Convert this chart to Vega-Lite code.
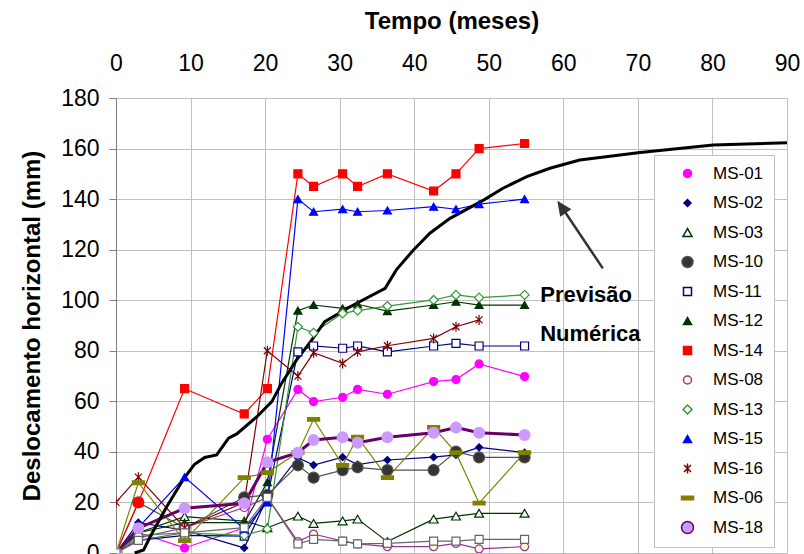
{
"$schema": "https://vega.github.io/schema/vega-lite/v6.json",
"width": 671, "height": 455,
"autosize": {"type": "none"},
"padding": {"left": 116, "top": 98, "right": 17, "bottom": 1},
"background": "white",
"config": {"view": {"stroke": null}, "font": "Liberation Sans",
 "legend": {"orient": "none", "legendX": 538, "legendY": 57, "title": null,
  "symbolSize": 784, "symbolStrokeWidth": 1.5, "symbolOffset": 15, "labelFontSize": 17, "labelFont": "Liberation Sans", "labelColor": "black", "labelOffset": 17,
  "rowPadding": 11.5, "padding": 10, "strokeColor": "#c0c0c0", "fillColor": "white", "symbolOpacity": 1}},
"datasets": {
"obs": [
{"s":"MS-01","t":0,"v":0},{"s":"MS-01","t":3,"v":8},{"s":"MS-01","t":9.2,"v":2},{"s":"MS-01","t":17.2,"v":10},{"s":"MS-01","t":20.3,"v":45},{"s":"MS-01","t":24.4,"v":64.7},{"s":"MS-01","t":26.5,"v":59.9},{"s":"MS-01","t":30.4,"v":61.6},{"s":"MS-01","t":32.4,"v":64.7},{"s":"MS-01","t":36.4,"v":62.8},{"s":"MS-01","t":42.6,"v":67.8},{"s":"MS-01","t":45.6,"v":68.6},{"s":"MS-01","t":48.7,"v":74.8},{"s":"MS-01","t":54.8,"v":69.8},
{"s":"MS-02","t":0,"v":0},{"s":"MS-02","t":3,"v":12},{"s":"MS-02","t":9.2,"v":9},{"s":"MS-02","t":17.2,"v":2},{"s":"MS-02","t":20.3,"v":22},{"s":"MS-02","t":24.4,"v":37.7},{"s":"MS-02","t":26.5,"v":34.8},{"s":"MS-02","t":30.4,"v":37.9},{"s":"MS-02","t":32.4,"v":35},{"s":"MS-02","t":36.4,"v":36.8},{"s":"MS-02","t":42.6,"v":37.9},{"s":"MS-02","t":45.6,"v":38.8},{"s":"MS-02","t":48.7,"v":41.8},{"s":"MS-02","t":54.8,"v":39.7},
{"s":"MS-03","t":0,"v":0},{"s":"MS-03","t":3,"v":8},{"s":"MS-03","t":9.2,"v":14.4},{"s":"MS-03","t":17.2,"v":12.6},{"s":"MS-03","t":20.3,"v":10},{"s":"MS-03","t":24.4,"v":14.6},{"s":"MS-03","t":26.5,"v":11.7},{"s":"MS-03","t":30.4,"v":12.7},{"s":"MS-03","t":32.4,"v":13.4},{"s":"MS-03","t":36.4,"v":4.5},{"s":"MS-03","t":42.6,"v":13.4},{"s":"MS-03","t":45.6,"v":14.6},{"s":"MS-03","t":48.7,"v":15.7},{"s":"MS-03","t":54.8,"v":15.7},
{"s":"MS-10","t":0,"v":0},{"s":"MS-10","t":3,"v":20},{"s":"MS-10","t":9.2,"v":10},{"s":"MS-10","t":17.2,"v":22},{"s":"MS-10","t":20.3,"v":23},{"s":"MS-10","t":24.4,"v":34.7},{"s":"MS-10","t":26.5,"v":29.8},{"s":"MS-10","t":30.4,"v":32.8},{"s":"MS-10","t":32.4,"v":33.9},{"s":"MS-10","t":36.4,"v":32.8},{"s":"MS-10","t":42.6,"v":32.8},{"s":"MS-10","t":45.6,"v":40.1},{"s":"MS-10","t":48.7,"v":37.8},{"s":"MS-10","t":54.8,"v":37.8},
{"s":"MS-11","t":0,"v":0},{"s":"MS-11","t":3,"v":5},{"s":"MS-11","t":9.2,"v":7},{"s":"MS-11","t":17.2,"v":6.7},{"s":"MS-11","t":20.3,"v":22},{"s":"MS-11","t":24.4,"v":79.6},{"s":"MS-11","t":26.5,"v":81.9},{"s":"MS-11","t":30.4,"v":81},{"s":"MS-11","t":32.4,"v":81.9},{"s":"MS-11","t":36.4,"v":79.6},{"s":"MS-11","t":42.6,"v":81.9},{"s":"MS-11","t":45.6,"v":82.9},{"s":"MS-11","t":48.7,"v":81.9},{"s":"MS-11","t":54.8,"v":81.9},
{"s":"MS-12","t":0,"v":0},{"s":"MS-12","t":3,"v":8},{"s":"MS-12","t":9.2,"v":12},{"s":"MS-12","t":17.2,"v":12},{"s":"MS-12","t":20.3,"v":28},{"s":"MS-12","t":24.4,"v":95.9},{"s":"MS-12","t":26.5,"v":98.1},{"s":"MS-12","t":30.4,"v":96.8},{"s":"MS-12","t":32.4,"v":98.4},{"s":"MS-12","t":36.4,"v":95.7},{"s":"MS-12","t":42.6,"v":98.1},{"s":"MS-12","t":45.6,"v":99.4},{"s":"MS-12","t":48.7,"v":98.1},{"s":"MS-12","t":54.8,"v":98.1},
{"s":"MS-14","t":0,"v":0},{"s":"MS-14","t":3,"v":20},{"s":"MS-14","t":9.2,"v":65},{"s":"MS-14","t":17.2,"v":55},{"s":"MS-14","t":20.3,"v":65},{"s":"MS-14","t":24.4,"v":150},{"s":"MS-14","t":26.5,"v":145},{"s":"MS-14","t":30.4,"v":150},{"s":"MS-14","t":32.4,"v":145},{"s":"MS-14","t":36.4,"v":150},{"s":"MS-14","t":42.6,"v":143.2},{"s":"MS-14","t":45.6,"v":150},{"s":"MS-14","t":48.7,"v":160},{"s":"MS-14","t":54.8,"v":162},
{"s":"MS-08","t":0,"v":0},{"s":"MS-08","t":3,"v":6},{"s":"MS-08","t":9.2,"v":10},{"s":"MS-08","t":17.2,"v":18},{"s":"MS-08","t":20.3,"v":22},{"s":"MS-08","t":24.4,"v":4.5},{"s":"MS-08","t":26.5,"v":7.5},{"s":"MS-08","t":30.4,"v":4.7},{"s":"MS-08","t":32.4,"v":3.6},{"s":"MS-08","t":36.4,"v":2.5},{"s":"MS-08","t":42.6,"v":2.5},{"s":"MS-08","t":45.6,"v":3.8},{"s":"MS-08","t":48.7,"v":1.6},{"s":"MS-08","t":54.8,"v":2.5},
{"s":"MS-13","t":0,"v":0},{"s":"MS-13","t":3,"v":7},{"s":"MS-13","t":9.2,"v":8},{"s":"MS-13","t":17.2,"v":7},{"s":"MS-13","t":20.3,"v":9.5},{"s":"MS-13","t":24.4,"v":89.5},{"s":"MS-13","t":26.5,"v":87.1},{"s":"MS-13","t":30.4,"v":94.8},{"s":"MS-13","t":32.4,"v":95.9},{"s":"MS-13","t":36.4,"v":97.7},{"s":"MS-13","t":42.6,"v":100.1},{"s":"MS-13","t":45.6,"v":102.1},{"s":"MS-13","t":48.7,"v":101},{"s":"MS-13","t":54.8,"v":102.1},
{"s":"MS-15","t":0,"v":0},{"s":"MS-15","t":3,"v":10},{"s":"MS-15","t":9.2,"v":30},{"s":"MS-15","t":17.2,"v":9.5},{"s":"MS-15","t":20.3,"v":20},{"s":"MS-15","t":24.4,"v":140},{"s":"MS-15","t":26.5,"v":135},{"s":"MS-15","t":30.4,"v":136},{"s":"MS-15","t":32.4,"v":135},{"s":"MS-15","t":36.4,"v":135.5},{"s":"MS-15","t":42.6,"v":137},{"s":"MS-15","t":45.6,"v":136},{"s":"MS-15","t":48.7,"v":138},{"s":"MS-15","t":54.8,"v":140},
{"s":"MS-16","t":0,"v":20},{"s":"MS-16","t":3,"v":30},{"s":"MS-16","t":9.2,"v":10},{"s":"MS-16","t":17.2,"v":20},{"s":"MS-16","t":20.3,"v":80},{"s":"MS-16","t":24.4,"v":70},{"s":"MS-16","t":26.5,"v":79.2},{"s":"MS-16","t":30.4,"v":75},{"s":"MS-16","t":32.4,"v":79.6},{"s":"MS-16","t":36.4,"v":82},{"s":"MS-16","t":42.6,"v":84.9},{"s":"MS-16","t":45.6,"v":89.5},{"s":"MS-16","t":48.7,"v":92.2},
{"s":"MS-06","t":0,"v":0},{"s":"MS-06","t":3,"v":27.8},{"s":"MS-06","t":9.2,"v":4.9},{"s":"MS-06","t":17.2,"v":29.8},{"s":"MS-06","t":20.3,"v":31.8},{"s":"MS-06","t":24.4,"v":39.7},{"s":"MS-06","t":26.5,"v":52.9},{"s":"MS-06","t":30.4,"v":34.7},{"s":"MS-06","t":32.4,"v":45.8},{"s":"MS-06","t":36.4,"v":29.8},{"s":"MS-06","t":42.6,"v":49.7},{"s":"MS-06","t":45.6,"v":39.7},{"s":"MS-06","t":48.7,"v":19.7},{"s":"MS-06","t":54.8,"v":39.7},
{"s":"MS-18","t":0,"v":0},{"s":"MS-18","t":3,"v":9.8},{"s":"MS-18","t":9.2,"v":17.7},{"s":"MS-18","t":17.2,"v":19.7},{"s":"MS-18","t":20.3,"v":35.9},{"s":"MS-18","t":24.4,"v":39.7},{"s":"MS-18","t":26.5,"v":44.7},{"s":"MS-18","t":30.4,"v":45.8},{"s":"MS-18","t":32.4,"v":43.6},{"s":"MS-18","t":36.4,"v":45.8},{"s":"MS-18","t":42.6,"v":47.6},{"s":"MS-18","t":45.6,"v":49.6},{"s":"MS-18","t":48.7,"v":47.6},{"s":"MS-18","t":54.8,"v":46.7},
{"s":"outro","t":0,"v":0},{"s":"outro","t":3,"v":5},{"s":"outro","t":9.2,"v":8},{"s":"outro","t":17.2,"v":10},{"s":"outro","t":20.3,"v":22},{"s":"outro","t":24.4,"v":3.6},{"s":"outro","t":26.5,"v":5.4},{"s":"outro","t":30.4,"v":4.7},{"s":"outro","t":32.4,"v":3.6},{"s":"outro","t":36.4,"v":3.8},{"s":"outro","t":42.6,"v":4.7},{"s":"outro","t":45.6,"v":4.7},{"s":"outro","t":48.7,"v":5.4},{"s":"outro","t":54.8,"v":5.4}
],
"num": [
{"t":2.5,"v":0},{"t":3.7,"v":1.2},{"t":4.6,"v":6.5},{"t":6.8,"v":18.3},{"t":9.0,"v":29},{"t":10.5,"v":35},{"t":11.9,"v":37.8},{"t":13.5,"v":38.8},{"t":15.1,"v":45.4},{"t":16.2,"v":47.1},{"t":18.9,"v":53.9},{"t":20.9,"v":59.9},{"t":22.2,"v":67.1},{"t":24.2,"v":76.3},{"t":26.2,"v":84},{"t":28.0,"v":91.5},{"t":31.4,"v":97.4},{"t":36.1,"v":104.7},{"t":37.6,"v":112},{"t":39.9,"v":119.9},{"t":42.1,"v":126.5},{"t":44.8,"v":132.4},{"t":49.3,"v":139.6},{"t":51.9,"v":144.3},{"t":55.1,"v":148.9},{"t":58.2,"v":152.2},{"t":62.2,"v":155.5},{"t":70.3,"v":158.4},{"t":80.1,"v":161.4},{"t":90,"v":162.3}
],
"arrow": [{"t":65.3,"v":112.6,"t2":59.8,"v2":136.8,"tt":59.2,"vt":139.4}],
"notes": [{"t":56.9,"v":99.2,"label":"Previsão"},{"t":56.9,"v":83.9,"label":"Numérica"}]
},
"layer": [
{
"data": {"name": "obs"},
"mark": {"type": "line", "clip": true},
"encoding": {
"x": {"field": "t", "type": "quantitative", "title": "Tempo (meses)", "scale": {"domain": [0, 90], "nice": false},
 "axis": {"orient": "top", "values": [0,10,20,30,40,50,60,70,80,90], "grid": true, "gridColor": "#c0c0c0", "domain": false, "ticks": false, "labelPadding": 23, "labelFontSize": 23, "labelColor": "black", "labelFlush": false, "titleFontSize": 24, "titleFontWeight": "bold", "titleColor": "black", "titlePadding": 19}},
"y": {"field": "v", "type": "quantitative", "title": "Deslocamento horizontal (mm)", "scale": {"domain": [0, 180], "nice": false},
 "axis": {"values": [0,20,40,60,80,100,120,140,160,180], "grid": true, "gridColor": "#c0c0c0", "domainColor": "#808080", "tickColor": "#808080", "tickSize": 7, "labelPadding": 10, "labelFontSize": 23, "labelColor": "black", "labelFlush": false, "titleFontSize": 24, "titleFontWeight": "bold", "titleColor": "black", "titlePadding": 16}},
"stroke": {"field": "s", "type": "nominal",
 "scale": {"domain": ["MS-01","MS-02","MS-03","MS-10","MS-11","MS-12","MS-14","MS-08","MS-13","MS-15","MS-16","MS-06","MS-18","outro"],
  "range": ["#FF00FF","#000080","#003300","#505050","#000080","#003300","#FF0000","#993399","#339933","#0000FF","#800000","#808000","#660066","#666666"]},
 "legend": {"values": ["MS-01","MS-02","MS-03","MS-10","MS-11","MS-12","MS-14","MS-08","MS-13","MS-15","MS-16","MS-06","MS-18"]}},
"strokeWidth": {"condition": {"test": "datum.s === 'MS-18'", "value": 3}, "value": 1.2},
"order": {"field": "t", "type": "quantitative"}
}
},
{
"data": {"name": "num"},
"mark": {"type": "line", "color": "black", "strokeWidth": 3},
"encoding": {
"x": {"field": "t", "type": "quantitative", "title": "Tempo (meses)"},
"y": {"field": "v", "type": "quantitative", "title": "Deslocamento horizontal (mm)"}
}
},
{
"data": {"name": "obs"},
"mark": {"type": "point", "filled": true, "opacity": 1, "clip": true},
"encoding": {
"x": {"field": "t", "type": "quantitative", "title": "Tempo (meses)"},
"y": {"field": "v", "type": "quantitative", "title": "Deslocamento horizontal (mm)"},
"stroke": {"field": "s", "type": "nominal",
 "scale": {"domain": ["MS-01","MS-02","MS-03","MS-10","MS-11","MS-12","MS-14","MS-08","MS-13","MS-15","MS-16","MS-06","MS-18","outro"],
  "range": ["#FF00FF","#000080","#003300","#505050","#000080","#003300","#FF0000","#993399","#339933","#0000FF","#800000","#808000","#660066","#666666"]},
 "legend": {"values": ["MS-01","MS-02","MS-03","MS-10","MS-11","MS-12","MS-14","MS-08","MS-13","MS-15","MS-16","MS-06","MS-18"]}},
"fill": {"field": "s", "type": "nominal",
 "scale": {"domain": ["MS-01","MS-02","MS-03","MS-10","MS-11","MS-12","MS-14","MS-08","MS-13","MS-15","MS-16","MS-06","MS-18","outro"],
  "range": ["#FF00FF","#000080","#FFFFFF","#333333","#FFFFFF","#003300","#FF0000","#FFFFCC","#FFFFFF","#0000FF","#800000","#808000","#CC99FF","#FFFFFF"]},
 "legend": {"values": ["MS-01","MS-02","MS-03","MS-10","MS-11","MS-12","MS-14","MS-08","MS-13","MS-15","MS-16","MS-06","MS-18"]}},
"shape": {"field": "s", "type": "nominal",
 "scale": {"domain": ["MS-01","MS-02","MS-03","MS-10","MS-11","MS-12","MS-14","MS-08","MS-13","MS-15","MS-16","MS-06","MS-18","outro"],
  "range": ["circle","diamond","triangle-up","circle","square","triangle-up","square","circle","diamond","triangle-up","M-0.7,-0.7L0.7,0.7M-0.7,0.7L0.7,-0.7M0,-1V1","M-1,-0.3H1V0.3H-1Z","circle","square"]},
 "legend": {"values": ["MS-01","MS-02","MS-03","MS-10","MS-11","MS-12","MS-14","MS-08","MS-13","MS-15","MS-16","MS-06","MS-18"]}},
"size": {"field": "s", "type": "nominal", "legend": null,
 "scale": {"type": "ordinal", "domain": ["MS-01","MS-02","MS-03","MS-10","MS-11","MS-12","MS-14","MS-08","MS-13","MS-15","MS-16","MS-06","MS-18","outro"],
  "range": [64,49,81,121,64,64,64,64,81,64,100,144,144,64]}},
"strokeWidth": {"condition": {"test": "datum.s === 'MS-18'", "value": 0}, "value": 1.2}
}
},
{
"data": {"name": "arrow"},
"mark": {"type": "rule", "color": "#333333", "strokeWidth": 2.5},
"encoding": {
"x": {"field": "t", "type": "quantitative", "title": "Tempo (meses)"},
"y": {"field": "v", "type": "quantitative", "title": "Deslocamento horizontal (mm)"},
"x2": {"field": "t2", "title": "Tempo (meses)"},
"y2": {"field": "v2", "title": "Deslocamento horizontal (mm)"}
}
},
{
"data": {"name": "arrow"},
"mark": {"type": "point", "shape": "M0,0L-0.45,1L0.45,1Z", "size": 900, "angle": 326, "filled": true, "color": "#333333", "opacity": 1, "strokeWidth": 0},
"encoding": {
"x": {"field": "tt", "type": "quantitative", "title": "Tempo (meses)"},
"y": {"field": "vt", "type": "quantitative", "title": "Deslocamento horizontal (mm)"}
}
},
{
"data": {"name": "notes"},
"mark": {"type": "text", "align": "left", "baseline": "alphabetic", "fontSize": 22, "fontWeight": "bold", "font": "Liberation Sans", "color": "black"},
"encoding": {
"x": {"field": "t", "type": "quantitative", "title": "Tempo (meses)"},
"y": {"field": "v", "type": "quantitative", "title": "Deslocamento horizontal (mm)"},
"text": {"field": "label"}
}
}
]
}
